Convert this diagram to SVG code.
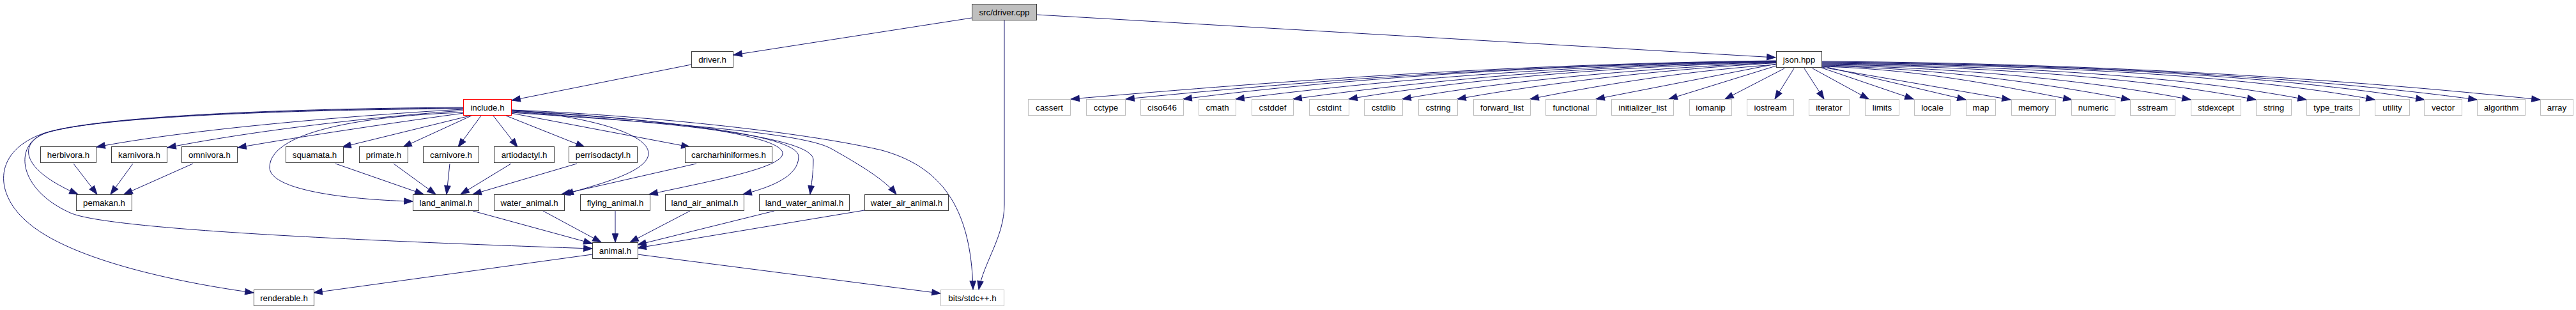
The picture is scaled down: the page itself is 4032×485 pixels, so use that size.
<svg xmlns="http://www.w3.org/2000/svg" width="4032" height="485" viewBox="0 0 4032 485">
<style>
.n rect{fill:#fff;stroke:#404040;stroke-width:1}
.s rect{fill:#fff;stroke:#bfbfbf;stroke-width:1}
text{font-family:"Liberation Sans",Arial,sans-serif;font-size:13.3px;fill:#000;text-anchor:middle}
#edges path{fill:none;stroke:#191970;stroke-width:1;marker-end:url(#ah)}
</style>
<defs>
<marker id="ah" markerUnits="userSpaceOnUse" viewBox="0 0 13.3 9.4" refX="13.3" refY="4.7" markerWidth="13.3" markerHeight="9.4" orient="auto" overflow="visible">
<path d="M0,0 L13.3,4.7 L0,9.4 z" fill="#191970" stroke="#191970" stroke-width="1"/>
</marker>
</defs>
<rect width="4032" height="485" fill="#fff"/>
<g id="edges">
<path d="M1521,28 L1148,86"/>
<path d="M1623,23 L2779,90"/>
<path d="M1572,31 L1572,320 C1572,370 1540,410 1532,453"/>
<path d="M1082,101 L801,157"/>
<path d="M725,171 C600,178 320,198 151,230"/>
<path d="M725,173 C620,180 420,200 262,231"/>
<path d="M726,177 C630,190 480,212 372,231"/>
<path d="M736,181 L536,230"/>
<path d="M738,181 L631,230"/>
<path d="M753,181 L717,230"/>
<path d="M772,181 L810,230"/>
<path d="M792,181 L915,230"/>
<path d="M800,177 L1080,230"/>
<path d="M800,172 C900,180 1015,205 1015,240 C1015,270 930,290 884,304"/>
<path d="M800,173 C950,180 1225,205 1225,240 C1225,262 1120,282 1016,304"/>
<path d="M800,174 C960,182 1250,205 1250,245 C1250,275 1210,292 1163,304"/>
<path d="M800,175 C1000,188 1273,210 1273,250 C1273,272 1270,288 1268,304"/>
<path d="M800,176 C1000,190 1250,205 1300,232 C1350,260 1385,282 1403,304"/>
<path d="M800,172 C1000,180 1250,205 1380,235 C1470,260 1520,320 1523,453"/>
<path d="M725,170 C420,172 160,184 78,206 C30,220 25,262 122,304"/>
<path d="M725,169 C420,171 160,183 75,207 C20,222 25,295 110,333 C170,360 600,378 927,389"/>
<path d="M725,168 C420,170 150,183 70,208 C-10,235 -10,300 40,345 C110,410 300,445 397,458"/>
<path d="M725,176 C600,180 422,200 422,262 C422,300 560,313 646,315"/>
<path d="M115,256 L152,304"/>
<path d="M208,256 L173,304"/>
<path d="M302,256 L194,304"/>
<path d="M525,256 L663,304"/>
<path d="M616,256 L682,304"/>
<path d="M704,256 L699,304"/>
<path d="M800,256 L721,304"/>
<path d="M903,256 L740,304"/>
<path d="M1090,256 L879,304"/>
<path d="M740,330 L927,381"/>
<path d="M850,330 L941,379"/>
<path d="M963,330 L963,379"/>
<path d="M1080,330 L986,379"/>
<path d="M1212,330 L998,383"/>
<path d="M1353,329 L998,388"/>
<path d="M927,398 L491,458"/>
<path d="M998,398 L1472,459"/>
<path d="M2780,95 C2338,100 1952,131.5 1676,155"/>
<path d="M2780,95.5 C2373,100.5 2016,129.5 1762,155"/>
<path d="M2780,96 C2409,101 2084,124.8 1852,155"/>
<path d="M2780,96.5 C2442,101.5 2145,127.5 1934,155"/>
<path d="M2780,97 C2478,102 2213,128.5 2024,155"/>
<path d="M2780,97.5 C2512,104 2278,126.6 2111,155"/>
<path d="M2780,98 C2546,108 2341,128.7 2195,155"/>
<path d="M2780,98.5 C2580,110 2406,132.5 2281,155"/>
<path d="M2780,101 C2626,112 2491,135.8 2395,155"/>
<path d="M2780,100 L2498,155"/>
<path d="M2780,103 L2612,155"/>
<path d="M2793,107 L2700,155"/>
<path d="M2808,107 L2778,155"/>
<path d="M2824,107 L2855,155"/>
<path d="M2837,107 L2925,155"/>
<path d="M2851,106 L2995,155"/>
<path d="M2851,103 L3077,156"/>
<path d="M2851,105 L3147,156"/>
<path d="M2851,104 C3008,108 3145,137.4 3243,156"/>
<path d="M2851,103 C3044,107 3213,132.8 3334,156"/>
<path d="M2851,102 C3082,106 3284,128 3429,156"/>
<path d="M2851,101 C3123,104 3361,123 3531,156"/>
<path d="M2851,100 C3155,103 3420,119 3610,156"/>
<path d="M2851,99 C3197,102 3500,115.9 3717,156"/>
<path d="M2851,98 C3229,101 3559,116.9 3795,156"/>
<path d="M2851,97 C3261,100 3620,121 3877,156"/>
<path d="M2851,96 C3301,99 3695,126 3976,156"/>
</g>
<g id="node_driver_cpp" class="n"><rect x="1521.5" y="6.5" width="101" height="25" style="fill:#bfbfbf"/><text x="1572" y="23.5">src/driver.cpp</text></g>
<g id="node_driver_h" class="n"><rect x="1082.5" y="80.5" width="65" height="25"/><text x="1115" y="97.5">driver.h</text></g>
<g id="node_json_hpp" class="n"><rect x="2780.5" y="80.5" width="71" height="25"/><text x="2816" y="97.5">json.hpp</text></g>
<g id="node_include_h" class="n"><rect x="725.5" y="155.5" width="75" height="25" style="stroke:#ff0000"/><text x="763" y="172.5">include.h</text></g>
<g id="node_cassert" class="s"><rect x="1609.5" y="155.5" width="66" height="25"/><text x="1642.5" y="172.5">cassert</text></g>
<g id="node_cctype" class="s"><rect x="1700.5" y="155.5" width="61" height="25"/><text x="1731" y="172.5">cctype</text></g>
<g id="node_ciso646" class="s"><rect x="1785.5" y="155.5" width="67" height="25"/><text x="1819" y="172.5">ciso646</text></g>
<g id="node_cmath" class="s"><rect x="1876.5" y="155.5" width="58" height="25"/><text x="1905.5" y="172.5">cmath</text></g>
<g id="node_cstddef" class="s"><rect x="1959.5" y="155.5" width="65" height="25"/><text x="1992" y="172.5">cstddef</text></g>
<g id="node_cstdint" class="s"><rect x="2049.5" y="155.5" width="62" height="25"/><text x="2080.5" y="172.5">cstdint</text></g>
<g id="node_cstdlib" class="s"><rect x="2135.5" y="155.5" width="60" height="25"/><text x="2165.5" y="172.5">cstdlib</text></g>
<g id="node_cstring" class="s"><rect x="2220.5" y="155.5" width="61" height="25"/><text x="2251" y="172.5">cstring</text></g>
<g id="node_forward_list" class="s"><rect x="2306.5" y="155.5" width="89" height="25"/><text x="2351" y="172.5">forward_list</text></g>
<g id="node_functional" class="s"><rect x="2419.5" y="155.5" width="79" height="25"/><text x="2459" y="172.5">functional</text></g>
<g id="node_initializer_list" class="s"><rect x="2522.5" y="155.5" width="97" height="25"/><text x="2571" y="172.5">initializer_list</text></g>
<g id="node_iomanip" class="s"><rect x="2644.5" y="155.5" width="66" height="25"/><text x="2677.5" y="172.5">iomanip</text></g>
<g id="node_iostream" class="s"><rect x="2734.5" y="155.5" width="73" height="25"/><text x="2771" y="172.5">iostream</text></g>
<g id="node_iterator" class="s"><rect x="2831.5" y="155.5" width="63" height="25"/><text x="2863" y="172.5">iterator</text></g>
<g id="node_limits" class="s"><rect x="2919.5" y="155.5" width="53" height="25"/><text x="2946" y="172.5">limits</text></g>
<g id="node_locale" class="s"><rect x="2996.5" y="155.5" width="56" height="25"/><text x="3024.5" y="172.5">locale</text></g>
<g id="node_map" class="s"><rect x="3077.5" y="155.5" width="46" height="25"/><text x="3100.5" y="172.5">map</text></g>
<g id="node_memory" class="s"><rect x="3148.5" y="155.5" width="69" height="25"/><text x="3183" y="172.5">memory</text></g>
<g id="node_numeric" class="s"><rect x="3242.5" y="155.5" width="68" height="25"/><text x="3276.5" y="172.5">numeric</text></g>
<g id="node_sstream" class="s"><rect x="3334.5" y="155.5" width="70" height="25"/><text x="3369.5" y="172.5">sstream</text></g>
<g id="node_stdexcept" class="s"><rect x="3429.5" y="155.5" width="78" height="25"/><text x="3468.5" y="172.5">stdexcept</text></g>
<g id="node_string" class="s"><rect x="3531.5" y="155.5" width="55" height="25"/><text x="3559" y="172.5">string</text></g>
<g id="node_type_traits" class="s"><rect x="3610.5" y="155.5" width="83" height="25"/><text x="3652" y="172.5">type_traits</text></g>
<g id="node_utility" class="s"><rect x="3717.5" y="155.5" width="54" height="25"/><text x="3744.5" y="172.5">utility</text></g>
<g id="node_vector" class="s"><rect x="3794.5" y="155.5" width="59" height="25"/><text x="3824" y="172.5">vector</text></g>
<g id="node_algorithm" class="s"><rect x="3877.5" y="155.5" width="75" height="25"/><text x="3915" y="172.5">algorithm</text></g>
<g id="node_array" class="s"><rect x="3976.5" y="155.5" width="51" height="25"/><text x="4002" y="172.5">array</text></g>
<g id="node_herbivora" class="n"><rect x="63.5" y="229.5" width="87" height="25"/><text x="107" y="246.5">herbivora.h</text></g>
<g id="node_karnivora" class="n"><rect x="174.5" y="229.5" width="87" height="25"/><text x="218" y="246.5">karnivora.h</text></g>
<g id="node_omnivora" class="n"><rect x="284.5" y="229.5" width="87" height="25"/><text x="328" y="246.5">omnivora.h</text></g>
<g id="node_squamata" class="n"><rect x="447.5" y="229.5" width="90" height="25"/><text x="492.5" y="246.5">squamata.h</text></g>
<g id="node_primate" class="n"><rect x="562.5" y="229.5" width="76" height="25"/><text x="600.5" y="246.5">primate.h</text></g>
<g id="node_carnivore" class="n"><rect x="662.5" y="229.5" width="87" height="25"/><text x="706" y="246.5">carnivore.h</text></g>
<g id="node_artiodactyl" class="n"><rect x="773.5" y="229.5" width="94" height="25"/><text x="820.5" y="246.5">artiodactyl.h</text></g>
<g id="node_perrisodactyl" class="n"><rect x="890.5" y="229.5" width="107" height="25"/><text x="944" y="246.5">perrisodactyl.h</text></g>
<g id="node_carcharhiniformes" class="n"><rect x="1072.5" y="229.5" width="136" height="25"/><text x="1140.5" y="246.5">carcharhiniformes.h</text></g>
<g id="node_pemakan" class="n"><rect x="119.5" y="304.5" width="87" height="25"/><text x="163" y="321.5">pemakan.h</text></g>
<g id="node_land_animal" class="n"><rect x="646.5" y="304.5" width="103" height="25"/><text x="698" y="321.5">land_animal.h</text></g>
<g id="node_water_animal" class="n"><rect x="773.5" y="304.5" width="110" height="25"/><text x="828.5" y="321.5">water_animal.h</text></g>
<g id="node_flying_animal" class="n"><rect x="908.5" y="304.5" width="109" height="25"/><text x="963" y="321.5">flying_animal.h</text></g>
<g id="node_land_air_animal" class="n"><rect x="1041.5" y="304.5" width="123" height="25"/><text x="1103" y="321.5">land_air_animal.h</text></g>
<g id="node_land_water_animal" class="n"><rect x="1188.5" y="304.5" width="141" height="25"/><text x="1259" y="321.5">land_water_animal.h</text></g>
<g id="node_water_air_animal" class="n"><rect x="1353.5" y="304.5" width="131" height="25"/><text x="1419" y="321.5">water_air_animal.h</text></g>
<g id="node_animal" class="n"><rect x="927.5" y="379.5" width="71" height="25"/><text x="963" y="396.5">animal.h</text></g>
<g id="node_renderable" class="n"><rect x="397.5" y="453.5" width="94" height="25"/><text x="444.5" y="470.5">renderable.h</text></g>
<g id="node_bits_stdcpp" class="s"><rect x="1472.5" y="453.5" width="99" height="25"/><text x="1522" y="470.5">bits/stdc++.h</text></g>
</svg>
